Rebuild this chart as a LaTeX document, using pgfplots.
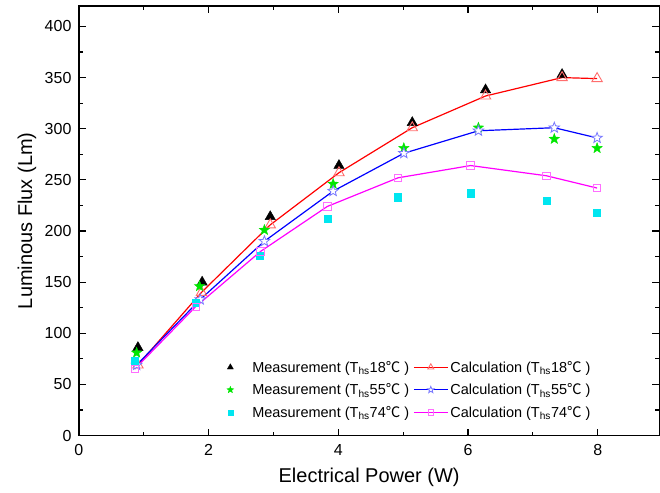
\documentclass[border=0pt]{standalone}
\usepackage{fontspec}
\setmainfont{Liberation Sans}
\newfontfamily\cjk{Noto Sans CJK SC}
\usepackage{pgfplots}
\pgfplotsset{compat=1.18}
\definecolor{mred}{RGB}{255,0,0}
\definecolor{mredl}{RGB}{255,110,110}
\definecolor{mblue}{RGB}{0,0,255}
\definecolor{mbluel}{RGB}{120,120,255}
\definecolor{mmag}{RGB}{255,0,255}
\definecolor{mmagl}{RGB}{255,110,255}
\definecolor{mgreen}{RGB}{0,230,0}
\definecolor{mcyan}{RGB}{0,230,240}
\pgfdeclareplotmark{fstar}{%
 \pgfpathmoveto{\pgfqpointpolar{90}{\pgfplotmarksize}}%
 \pgfpathlineto{\pgfqpointpolar{126}{0.42\pgfplotmarksize}}%
 \pgfpathlineto{\pgfqpointpolar{162}{\pgfplotmarksize}}%
 \pgfpathlineto{\pgfqpointpolar{198}{0.42\pgfplotmarksize}}%
 \pgfpathlineto{\pgfqpointpolar{234}{\pgfplotmarksize}}%
 \pgfpathlineto{\pgfqpointpolar{270}{0.42\pgfplotmarksize}}%
 \pgfpathlineto{\pgfqpointpolar{306}{\pgfplotmarksize}}%
 \pgfpathlineto{\pgfqpointpolar{342}{0.42\pgfplotmarksize}}%
 \pgfpathlineto{\pgfqpointpolar{18}{\pgfplotmarksize}}%
 \pgfpathlineto{\pgfqpointpolar{54}{0.42\pgfplotmarksize}}%
 \pgfpathclose\pgfusepathqfillstroke}
\pgfplotsset{
 measlegend/.style={legend image code/.code={\path[draw=none,fill=none] (-0.15cm,0cm) -- (0.7cm,0cm);\draw[##1,mark size=#1] plot[only marks] coordinates {(0cm,0cm)};}},
 calclegend/.style={legend image code/.code={\draw[mark repeat=2,mark phase=2,##1,mark size=#1] plot coordinates {(0cm,0cm)(0.6cm,0cm)(1.2cm,0cm)};}},
}
\newcommand{\Ths}[1]{(T\textsubscript{hs}#1{\cjk ℃} )}
\begin{document}
\begin{tikzpicture}
\path (-79pt,-57pt) rectangle (581pt,436pt);
\begin{axis}[
 at={(0pt,0pt)}, anchor=south west,
 scale only axis, width=581pt, height=430pt,
 xmin=0, xmax=8.95, ymin=0, ymax=420,
 xtick={0,2,4,6,8}, minor xtick={1,3,5,7},
 ytick={0,50,...,400}, minor ytick={25,75,...,375},
 tick align=inside, major tick length=7pt, minor tick length=4pt,
 axis line style={line width=1.3pt},
 every tick/.style={line width=1.1pt, black},
 tick label style={font=\fontsize{16}{19}\selectfont},
 xticklabel style={yshift=-5pt},
 yticklabel style={xshift=-4pt},
 /pgf/number format/assume math mode=true,
 xlabel={Electrical Power (W)}, ylabel={Luminous Flux (Lm)},
 label style={font=\fontsize{20}{24}\selectfont},
 xlabel style={at={(axis description cs:0.5,-0.098)}, anchor=center},
 ylabel style={at={(axis description cs:-0.0895,0.5)}, anchor=center},
 legend columns=2,
 legend style={draw=none, fill=none, at={(axis cs:2.22,77)}, anchor=north west,
   font=\fontsize{14.5}{17}\selectfont, row sep=6pt,
   /tikz/every even column/.append style={column sep=2pt},
   nodes={inner sep=2pt}},
 legend cell align=left,
]
\addplot[only marks, mark=triangle*, mark size=6pt, black, measlegend=3.5pt] coordinates {
 (0.91,86) (1.90,150) (2.95,214) (4.01,264) (5.14,306) (6.27,338) (7.45,353)};
\addlegendentry{Measurement \Ths{18}}
\addplot[mred, line width=1.2pt, mark=triangle, mark size=6pt, mark options={mredl, fill=white, line width=0.9pt}, calclegend=3.5pt] coordinates {
 (0.91,69) (1.89,140) (2.95,206) (4.01,257) (5.14,301) (6.27,332) (7.45,350) (7.99,349)};
\addlegendentry{Calculation \Ths{18}}
\addplot[only marks, mark=fstar, mark size=5.5pt, mgreen, mark options={fill=mgreen, line width=0.4pt}, measlegend=3.5pt] coordinates {
 (0.89,81) (1.86,146) (2.86,201) (3.92,246) (5.01,281) (6.16,301) (7.33,290) (7.99,281)};
\addlegendentry{Measurement \Ths{55}}
\addplot[mblue, line width=1.2pt, mark=fstar, mark size=5.5pt, mark options={mbluel, fill=white, line width=0.8pt}, calclegend=3.5pt] coordinates {
 (0.89,69) (1.87,133) (2.86,190) (3.92,239) (5.01,276) (6.16,298) (7.33,301) (7.99,291)};
\addlegendentry{Calculation \Ths{55}}
\addplot[only marks, mark=square*, mark size=3.6pt, mcyan, measlegend=2.6pt] coordinates {
 (0.86,73) (1.80,130) (2.79,176) (3.83,212) (4.92,233) (6.04,237) (7.21,230) (7.99,218)};
\addlegendentry{Measurement \Ths{74}}
\addplot[mmag, line width=1.2pt, mark=square, mark size=3.7pt, mark options={mmagl, fill=white, line width=0.9pt}, calclegend=2.6pt] coordinates {
 (0.86,65) (1.80,126) (2.80,180) (3.83,224) (4.92,252) (6.04,264) (7.21,254) (7.99,242)};
\addlegendentry{Calculation \Ths{74}}
\end{axis}
\end{tikzpicture}
\end{document}
